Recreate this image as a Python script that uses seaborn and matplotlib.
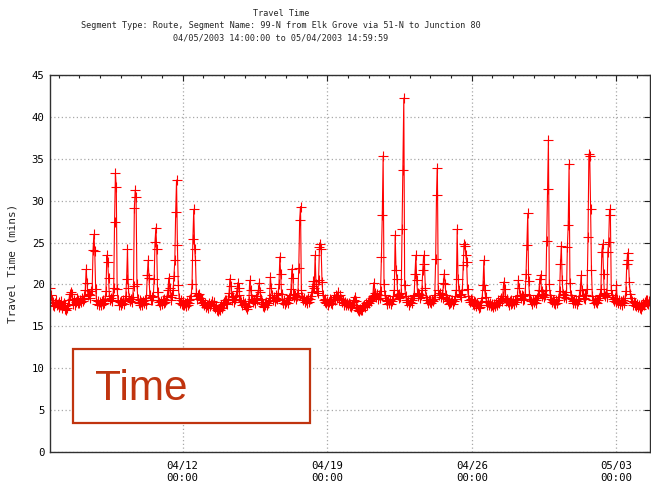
import pandas as pd
import seaborn as sns
import matplotlib.pyplot as plt
import matplotlib.dates as mdates
from matplotlib.patches import Rectangle

# hourly travel time (mins), 99-N Elk Grove -> Junction 80
start = '2003-04-05 14:00'

apr05 = [19.6, 18.8, 18.2, 17.6, 17.9, 17.4, 17.8, 18.1, 17.5, 17.7]  # 14:00-23:00
apr06 = [17.9, 17.3, 17.6, 18.0, 17.2, 17.5, 17.8, 17.1, 17.4, 16.9, 17.2, 17.6,
         18.2, 18.9, 19.1, 18.9, 18.3, 17.7, 18.1, 17.6, 17.9, 18.4, 17.8, 18.2]
apr07 = [17.8, 18.2, 17.9, 18.4, 18.0, 18.3, 18.6, 19.4, 21.8, 20.2, 18.7, 18.9,
         18.4, 18.8, 19.2, 19.5, 24.1, 26.0, 24.0, 19.5, 18.2, 17.7, 18.0, 17.6]
apr08 = [17.9, 17.5, 18.0, 17.7, 18.1, 17.8, 18.3, 19.2, 23.5, 22.7, 20.8, 18.6,
         18.1, 18.4, 18.0, 18.7, 19.6, 27.5, 33.3, 31.7, 19.5, 18.1, 17.6, 17.9]
apr09 = [17.6, 18.0, 17.8, 18.2, 17.7, 18.1, 18.6, 20.6, 24.2, 19.6, 18.4, 18.0,
         18.3, 17.9, 18.5, 19.8, 29.1, 31.3, 30.5, 20.0, 18.3, 17.8, 18.1, 17.5]
apr10 = [17.9, 17.6, 18.0, 17.8, 18.2, 17.7, 18.4, 21.1, 22.9, 20.8, 18.7, 18.2,
         18.5, 18.1, 18.6, 20.7, 25.1, 26.8, 24.2, 19.1, 18.2, 17.9, 17.6, 18.0]
apr11 = [17.7, 18.1, 17.8, 18.3, 17.9, 18.2, 18.6, 19.3, 20.8, 19.6, 18.5, 18.1,
         18.7, 19.4, 21.0, 22.9, 28.7, 32.5, 24.7, 19.9, 18.4, 17.8, 18.1, 17.7]
apr12 = [17.6, 18.0, 17.5, 17.8, 17.4, 17.9, 17.6, 18.1, 17.8, 18.3, 18.6, 20.0,
         25.5, 29.0, 24.3, 22.9, 19.0, 18.3, 18.7, 18.9, 18.4, 18.1, 17.8, 18.2]
apr13 = [17.9, 17.5, 17.8, 17.3, 17.6, 17.2, 17.5, 17.8, 17.4, 17.7, 18.0, 17.6,
         17.9, 17.5, 17.2, 17.4, 17.0, 16.8, 17.1, 16.9, 17.3, 17.6, 17.2, 17.7]
apr14 = [17.9, 18.2, 17.8, 18.1, 17.7, 18.3, 19.0, 20.7, 19.8, 18.6, 18.2, 18.5,
         17.9, 18.3, 18.6, 19.2, 20.2, 19.6, 18.8, 18.1, 17.9, 17.6, 18.0, 17.7]
apr15 = [17.8, 17.5, 17.3, 17.1, 17.4, 18.0, 20.5, 19.4, 18.7, 18.3, 17.9, 18.2,
         17.8, 18.4, 18.1, 18.6, 19.3, 20.2, 19.1, 18.3, 17.9, 17.4, 17.7, 17.3]
apr16 = [17.6, 17.9, 17.5, 17.8, 18.1, 18.4, 20.9, 19.6, 18.8, 18.2, 18.5, 18.0,
         18.4, 18.7, 18.3, 19.0, 20.1, 23.3, 21.2, 18.9, 18.2, 17.8, 18.1, 17.7]
apr17 = [17.9, 18.2, 17.8, 18.1, 18.4, 18.7, 19.5, 21.9, 20.8, 18.9, 18.5, 18.8,
         18.3, 18.6, 19.0, 22.0, 27.7, 29.3, 19.4, 18.5, 18.1, 18.4, 17.9, 18.2]
apr18 = [17.8, 18.1, 18.4, 17.9, 18.3, 18.6, 19.1, 19.8, 20.4, 19.6, 23.5, 20.1,
         19.2, 19.0, 20.5, 24.5, 24.9, 24.2, 20.3, 18.7, 18.2, 17.9, 18.3, 17.8]
apr19 = [18.0, 17.6, 17.9, 18.3, 17.8, 18.1, 17.7, 18.2, 18.5, 18.1, 18.8, 18.4,
         19.1, 18.6, 18.2, 18.7, 18.3, 17.9, 18.2, 17.8, 17.5, 17.9, 17.6, 17.8]
apr20 = [17.5, 17.8, 17.4, 17.7, 17.3, 17.6, 17.9, 18.2, 18.5, 18.0, 17.6, 17.2,
         17.0, 16.8, 17.1, 16.9, 17.3, 17.0, 17.4, 17.6, 17.3, 17.8, 17.5, 17.9]
apr21 = [18.1, 17.8, 18.2, 18.0, 18.4, 18.6, 20.2, 19.0, 18.7, 18.5, 18.9, 18.3,
         18.7, 18.4, 19.2, 23.3, 28.3, 35.4, 20.1, 18.7, 18.2, 18.0, 17.7, 18.1]
apr22 = [17.8, 18.1, 17.7, 18.0, 18.3, 18.6, 19.4, 25.9, 21.7, 20.7, 18.8, 18.4,
         18.9, 18.5, 19.0, 26.6, 33.7, 42.3, 19.9, 18.6, 18.2, 17.9, 18.2, 17.6]
apr23 = [17.9, 18.2, 17.8, 18.1, 18.4, 18.7, 21.3, 23.5, 20.5, 19.0, 18.6, 18.9,
         18.4, 18.8, 19.3, 21.7, 23.5, 22.5, 19.6, 18.5, 18.1, 17.8, 18.2, 17.9]
apr24 = [18.1, 17.8, 18.2, 18.0, 18.3, 18.8, 23.0, 30.7, 33.9, 19.4, 18.7, 19.0,
         18.5, 18.9, 18.4, 20.2, 21.3, 20.0, 18.7, 18.3, 18.0, 17.7, 18.1, 17.8]
apr25 = [17.9, 18.2, 17.7, 18.0, 18.3, 18.6, 19.3, 26.6, 20.7, 19.3, 18.8, 18.5,
         18.9, 19.4, 22.3, 24.9, 24.6, 23.5, 22.7, 19.5, 18.6, 18.2, 17.9, 18.3]
apr26 = [18.1, 17.7, 18.0, 17.6, 17.9, 17.4, 17.8, 17.5, 17.2, 17.6, 17.3, 17.9,
         18.4, 19.9, 22.9, 19.3, 18.5, 18.0, 17.6, 17.9, 17.5, 17.8, 17.4, 17.7]
apr27 = [17.6, 17.3, 17.7, 17.4, 17.8, 17.5, 17.9, 18.2, 17.8, 18.1, 18.4, 18.0,
         18.6, 20.3, 19.5, 18.4, 18.0, 18.3, 17.9, 17.6, 18.0, 17.7, 18.1, 17.8]
apr28 = [18.0, 17.7, 18.1, 17.9, 18.3, 18.6, 20.5, 19.6, 18.8, 18.4, 18.7, 18.2,
         18.6, 18.3, 18.9, 21.3, 24.7, 28.5, 20.4, 18.8, 18.3, 18.0, 17.7, 18.1]
apr29 = [17.9, 18.2, 17.8, 18.1, 18.4, 18.7, 19.3, 20.7, 21.1, 19.2, 18.6, 18.9,
         18.5, 18.8, 19.4, 25.2, 31.4, 37.3, 20.0, 18.7, 18.3, 17.9, 18.2, 17.8]
apr30 = [18.0, 17.7, 18.1, 17.8, 18.2, 18.5, 19.2, 22.5, 24.6, 20.5, 18.9, 18.5,
         18.8, 18.4, 19.1, 24.5, 27.1, 34.4, 20.2, 18.8, 18.3, 18.0, 17.8, 18.1]
may01 = [17.8, 18.1, 17.7, 18.0, 18.3, 18.6, 19.4, 21.1, 19.3, 18.7, 18.4, 18.8,
         18.3, 18.7, 19.5, 25.7, 35.6, 35.4, 29.0, 21.7, 18.6, 18.1, 17.8, 18.2]
may02 = [17.9, 18.2, 17.8, 18.1, 18.4, 18.7, 19.5, 23.9, 24.8, 21.3, 18.9, 18.6,
         19.0, 18.5, 23.9, 25.1, 29.0, 28.3, 19.3, 18.7, 18.3, 18.0, 18.4, 17.9]
may03 = [19.9, 18.1, 17.8, 18.2, 17.7, 18.0, 17.6, 17.9, 18.2, 17.8, 18.4, 19.2,
         22.5, 23.8, 22.9, 20.3, 18.9, 18.4, 18.0, 17.6, 17.9, 17.5, 17.8, 17.4]
may04 = [17.7, 17.3, 17.6, 17.2, 17.5, 17.1, 17.4, 17.8, 17.5, 17.9, 18.2, 17.8,
         18.1, 17.7, 18.0]  # 00:00-14:00

days = [apr05, apr06, apr07, apr08, apr09, apr10, apr11, apr12, apr13, apr14,
        apr15, apr16, apr17, apr18, apr19, apr20, apr21, apr22, apr23, apr24,
        apr25, apr26, apr27, apr28, apr29, apr30, may01, may02, may03, may04]
travel = [v for d in days for v in d]
df = pd.DataFrame({'time': pd.date_range(start, periods=len(travel), freq='h'),
                   'travel_time': travel})

title_lines = ['Travel Time',
               'Segment Type: Route, Segment Name: 99-N from Elk Grove via 51-N to Junction 80',
               '04/05/2003 14:00:00 to 05/04/2003 14:59:59']

sns.set_style('white')
plt.rcParams['font.family'] = ['DejaVu Sans Mono']

fig = plt.figure(figsize=(6.51, 4.94), dpi=100)
ax = fig.add_axes([50/651, 1 - 451.7/494, 600/651, (451.7 - 75.5)/494])

sns.lineplot(data=df, x='time', y='travel_time', ax=ax, color='red',
             linewidth=0.8, marker='+', markersize=6.5,
             markeredgecolor='red', markeredgewidth=0.8)

ax.set_xlim(pd.Timestamp('2003-04-05 14:00'), pd.Timestamp('2003-05-04 15:00'))
ax.set_ylim(0, 45)
ax.set_yticks(range(0, 46, 5))
ax.xaxis.set_major_locator(mdates.WeekdayLocator(byweekday=mdates.SA))
ax.xaxis.set_minor_locator(mdates.DayLocator())
ax.xaxis.set_major_formatter(mdates.DateFormatter('%m/%d\n%H:%M'))

ax.set_axisbelow(True)
ax.grid(True, which='major', color='#a8a8a8', linestyle=(0, (1, 2)), linewidth=0.9)
ax.tick_params(which='both', direction='in', top=True, right=True,
               color='#202020', labelsize=7.7, labelcolor='black')
ax.tick_params(which='major', length=4, width=0.8)
ax.tick_params(which='minor', length=2.5, width=0.8)
ax.tick_params(axis='x', pad=7)
ax.tick_params(axis='y', pad=4)
for s in ax.spines.values():
    s.set_color('#303030')
    s.set_linewidth(1.0)
ax.set_xlabel('')
ax.set_ylabel('')

fig.text(13/651, 0.5 * (2 - (451.7 + 75.5)/494), 'Travel Time (mins)', rotation=90,
         ha='center', va='center', fontsize=7.9)
for i, line in enumerate(title_lines):
    fig.text(281/651, 1 - (13 + 12.5*i)/494, line, ha='center', va='center', fontsize=6.1)

# callout box
box_color = '#C0340F'
fig.add_artist(Rectangle((73/651, 1 - 423/494), 237/651, 74/494, transform=fig.transFigure,
                         facecolor='white', edgecolor=box_color, linewidth=1.6, zorder=5))
fig.text(95/651, 1 - 400/494, 'Time', family='Liberation Sans', fontsize=30.5,
         color=box_color, va='baseline', ha='left', zorder=6)

plt.savefig('out.png', dpi=100)
